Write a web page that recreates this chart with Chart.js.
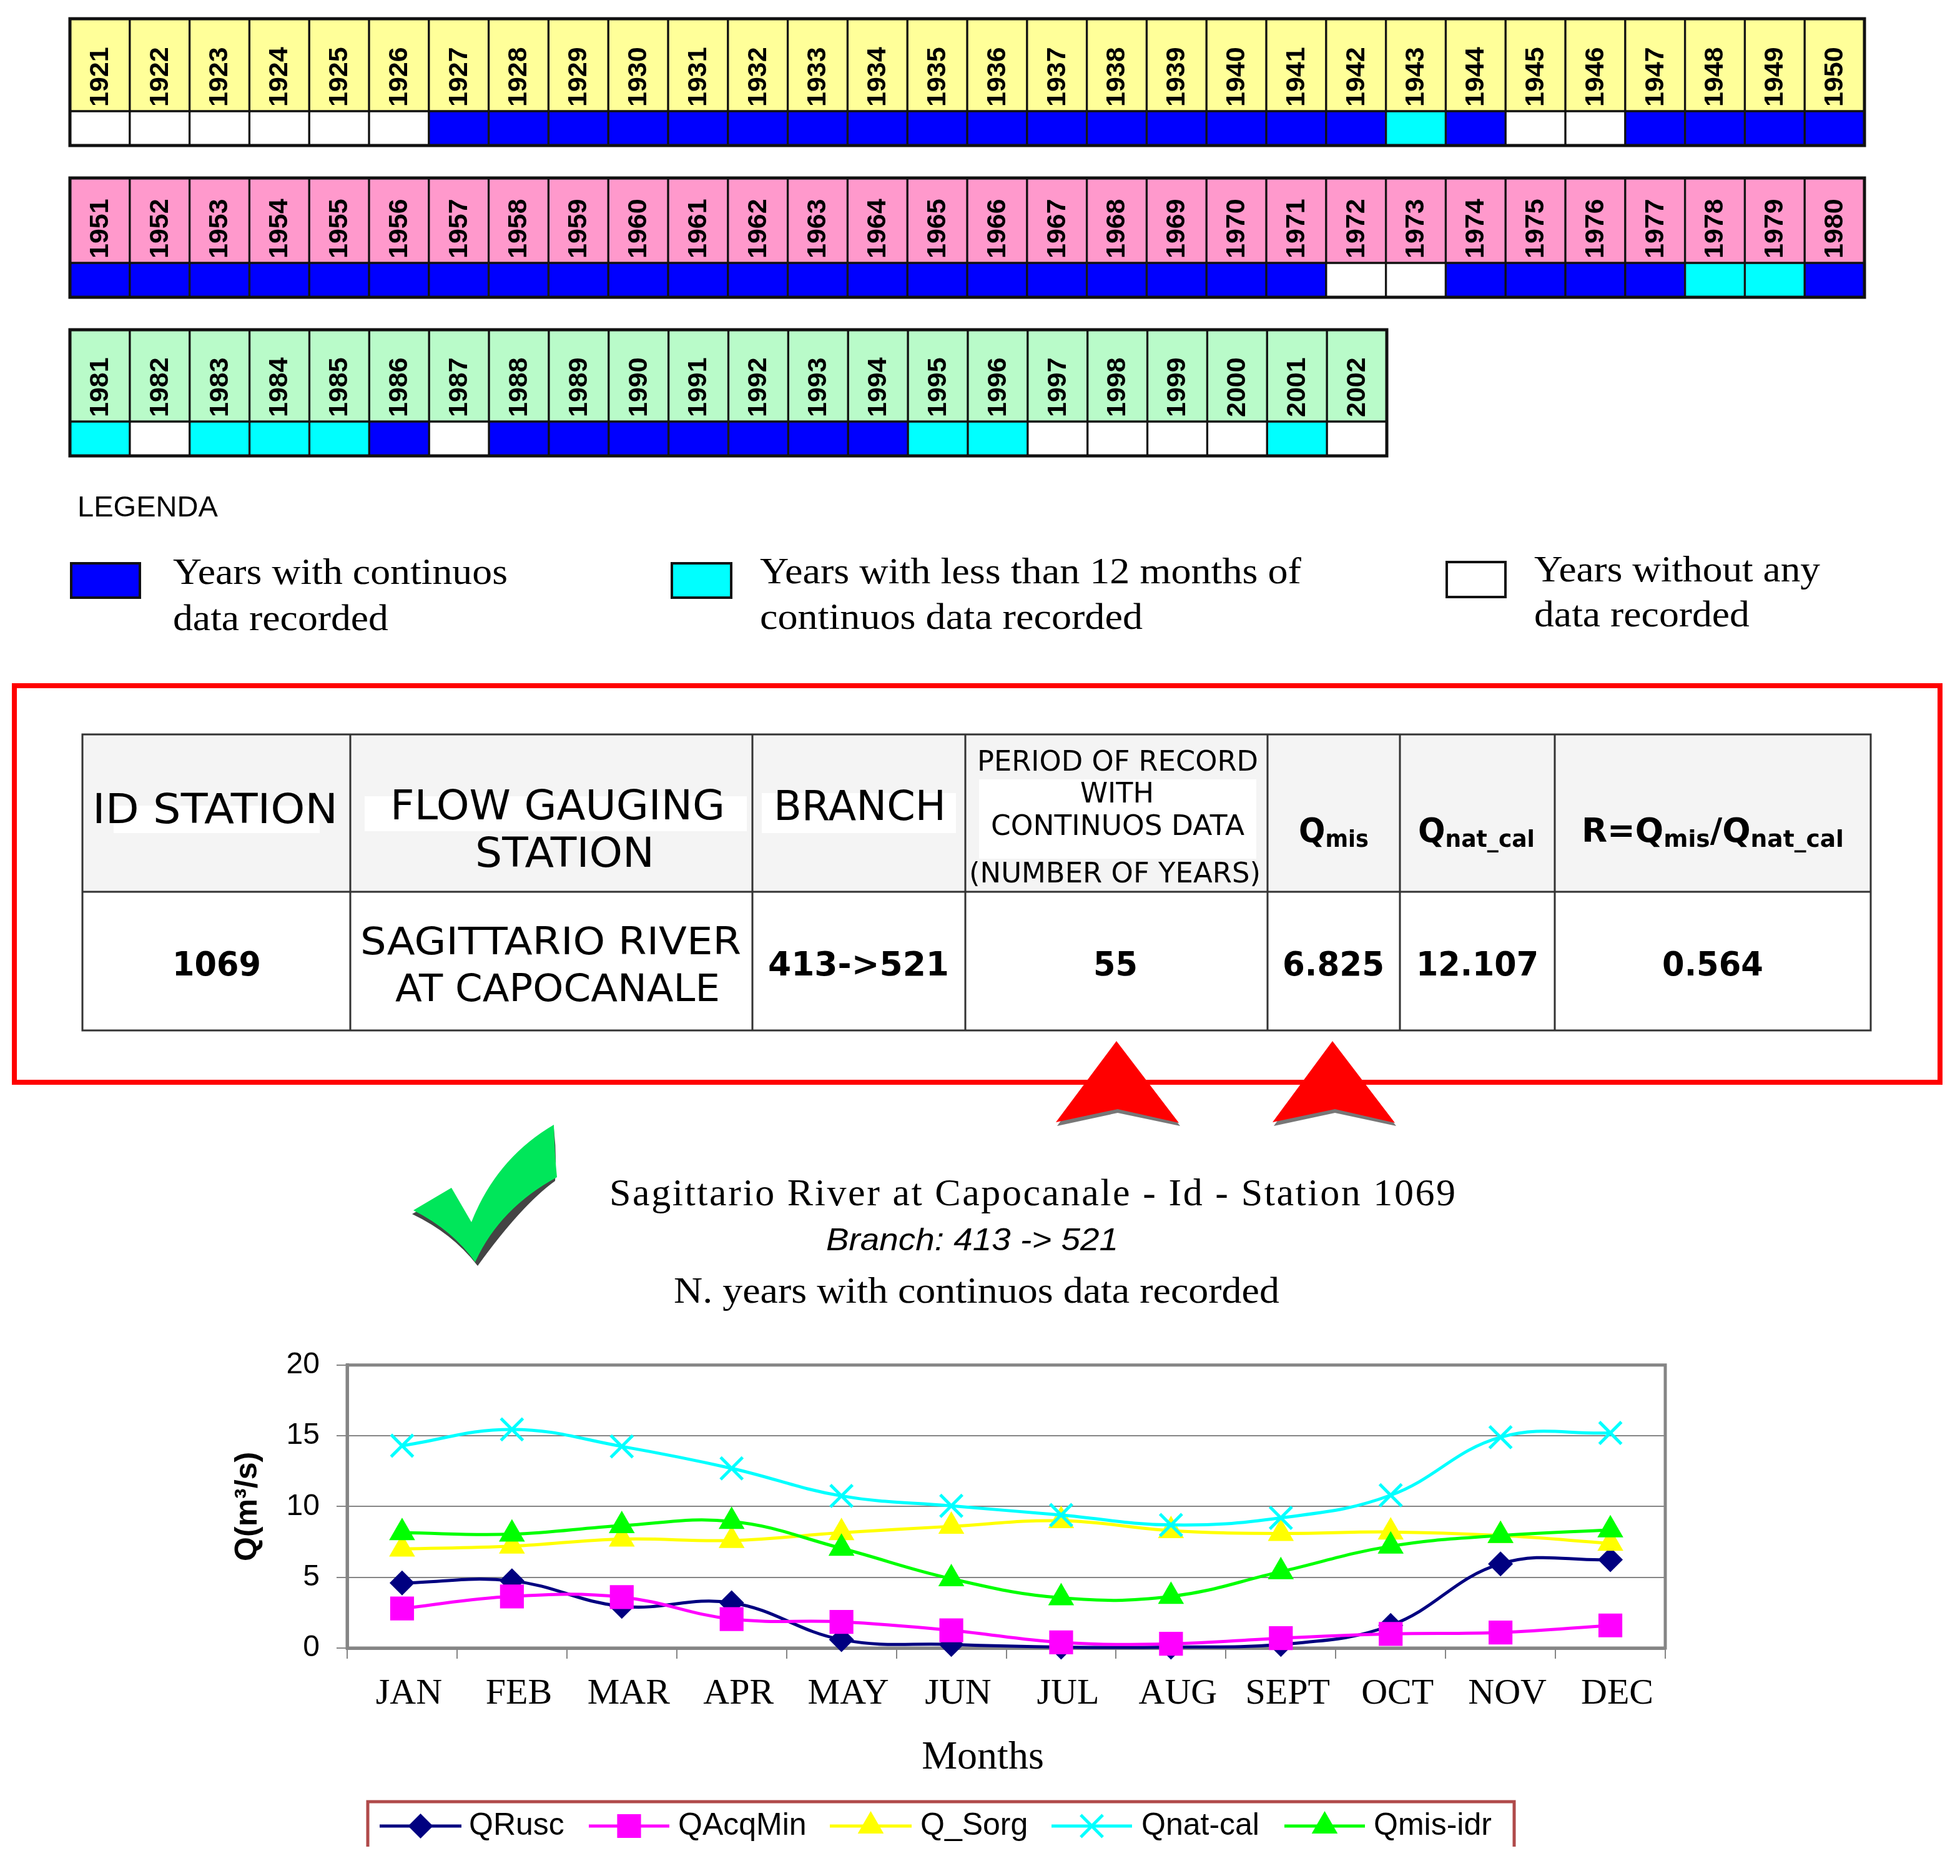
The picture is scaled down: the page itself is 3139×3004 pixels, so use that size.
<!DOCTYPE html>
<html>
<head>
<meta charset="utf-8">
<title>Sagittario River at Capocanale</title>
<script src="https://cdn.jsdelivr.net/npm/chart.js@4/dist/chart.umd.min.js"></script>
<style>
  html, body { margin: 0; padding: 0; background: #fff; }
  #page { position: relative; width: 3139px; height: 3004px; overflow: hidden; background: #fff; }
  canvas { position: absolute; display: block; }
  #overlay { position: absolute; left: 0; top: 0; }
  .sans { font-family: "Liberation Sans", Arial, sans-serif; }
  .serif { font-family: "Liberation Serif", "Times New Roman", serif; }
  .dv { font-family: "DejaVu Sans", Verdana, sans-serif; }
  .dvb { font-family: "DejaVu Sans", Verdana, sans-serif; font-weight: bold; }
</style>
</head>
<body>
<div id="page">
  <canvas id="years-1" width="2882" height="211" style="left:108px;top:26px"></canvas>
  <canvas id="years-2" width="2882" height="199" style="left:108px;top:281px"></canvas>
  <canvas id="years-3" width="2117" height="210" style="left:108px;top:524px"></canvas>
  <canvas id="chart-flow" width="2400" height="840" style="left:340px;top:2130px"></canvas>

  <svg id="overlay" width="3139" height="3004" xmlns="http://www.w3.org/2000/svg">
    <!-- status legend -->
    <text class="sans" x="124" y="827" font-size="46" textLength="225" lengthAdjust="spacingAndGlyphs">LEGENDA</text>
    <rect x="114" y="902" width="110" height="55" fill="#0000ff" stroke="#111" stroke-width="4"/>
    <rect x="1076" y="902" width="95" height="55" fill="#00ffff" stroke="#111" stroke-width="4"/>
    <rect x="2317" y="900" width="94" height="56" fill="#fff" stroke="#111" stroke-width="4"/>
    <g class="serif" font-size="60">
      <text x="277" y="935" textLength="536" lengthAdjust="spacingAndGlyphs">Years with continuos</text>
      <text x="277" y="1009" textLength="345" lengthAdjust="spacingAndGlyphs">data recorded</text>
      <text x="1217" y="934" textLength="867" lengthAdjust="spacingAndGlyphs">Years with less than 12 months of</text>
      <text x="1217" y="1007" textLength="613" lengthAdjust="spacingAndGlyphs">continuos data recorded</text>
      <text x="2457" y="931" textLength="458" lengthAdjust="spacingAndGlyphs">Years without any</text>
      <text x="2457" y="1003" textLength="345" lengthAdjust="spacingAndGlyphs">data recorded</text>
    </g>

    <!-- station table -->
    <rect x="23" y="1098" width="3084" height="635" fill="none" stroke="#ff0000" stroke-width="8"/>
    <rect x="132" y="1176" width="2864" height="252" fill="#f4f4f4"/>
    <rect x="182" y="1290" width="330" height="44" fill="#fff"/>
    <rect x="584" y="1275" width="612" height="56" fill="#fff"/>
    <rect x="1220" y="1270" width="311" height="64" fill="#fff"/>
    <rect x="1568" y="1248" width="444" height="127" fill="#fff"/>
    <g stroke="#333" stroke-width="3" fill="none">
      <rect x="132" y="1176" width="2864" height="474"/>
      <line x1="132" y1="1428" x2="2996" y2="1428"/>
      <line x1="561" y1="1176" x2="561" y2="1650"/>
      <line x1="1205" y1="1176" x2="1205" y2="1650"/>
      <line x1="1546" y1="1176" x2="1546" y2="1650"/>
      <line x1="2030" y1="1176" x2="2030" y2="1650"/>
      <line x1="2242" y1="1176" x2="2242" y2="1650"/>
      <line x1="2490" y1="1176" x2="2490" y2="1650"/>
    </g>
    <g class="dv" font-size="66" fill="#000">
      <text x="148" y="1318" textLength="393" lengthAdjust="spacingAndGlyphs">ID STATION</text>
      <text x="625" y="1312" textLength="536" lengthAdjust="spacingAndGlyphs">FLOW GAUGING</text>
      <text x="761" y="1388" textLength="287" lengthAdjust="spacingAndGlyphs">STATION</text>
      <text x="1239" y="1313" textLength="276" lengthAdjust="spacingAndGlyphs">BRANCH</text>
    </g>
    <g class="dv" font-size="45" fill="#000">
      <text x="1565" y="1234" textLength="450" lengthAdjust="spacingAndGlyphs">PERIOD OF RECORD</text>
      <text x="1730" y="1285" textLength="118" lengthAdjust="spacingAndGlyphs">WITH</text>
      <text x="1587" y="1337" textLength="406" lengthAdjust="spacingAndGlyphs">CONTINUOS DATA</text>
      <text x="1552" y="1413" textLength="467" lengthAdjust="spacingAndGlyphs">(NUMBER OF YEARS)</text>
    </g>
    <g class="dvb" font-size="54" fill="#000">
      <text x="2080" y="1348" textLength="112" lengthAdjust="spacingAndGlyphs">Q<tspan font-size="38" dy="8">mis</tspan></text>
      <text x="2271" y="1348" textLength="187" lengthAdjust="spacingAndGlyphs">Q<tspan font-size="38" dy="8">nat_cal</tspan></text>
      <text x="2533" y="1348" textLength="420" lengthAdjust="spacingAndGlyphs">R=Q<tspan font-size="38" dy="8">mis</tspan><tspan dy="-8">/Q</tspan><tspan font-size="38" dy="8">nat_cal</tspan></text>
      <text x="276" y="1562" textLength="142" lengthAdjust="spacingAndGlyphs">1069</text>
      <text x="1230" y="1562" textLength="290" lengthAdjust="spacingAndGlyphs">413-&gt;521</text>
      <text x="1751" y="1562" textLength="71" lengthAdjust="spacingAndGlyphs">55</text>
      <text x="2054" y="1562" textLength="163" lengthAdjust="spacingAndGlyphs">6.825</text>
      <text x="2268" y="1562" textLength="196" lengthAdjust="spacingAndGlyphs">12.107</text>
      <text x="2662" y="1562" textLength="162" lengthAdjust="spacingAndGlyphs">0.564</text>
    </g>
    <g class="dv" font-size="60" fill="#000">
      <text x="577" y="1528" textLength="610" lengthAdjust="spacingAndGlyphs">SAGITTARIO RIVER</text>
      <text x="633" y="1603" textLength="520" lengthAdjust="spacingAndGlyphs">AT CAPOCANALE</text>
    </g>

    <!-- arrows and check mark -->
    <g fill="#555" opacity="0.8">
      <polygon points="1788,1672 1693,1803 1790,1782 1890,1803"/>
      <polygon points="2134,1672 2040,1803 2138,1782 2236,1803"/>
    </g>
    <polygon points="1788,1667 1691,1797 1790,1776 1888,1798" fill="#ff0000"/>
    <polygon points="2134,1667 2038,1797 2138,1776 2234,1798" fill="#ff0000"/>
    <path d="M884,1806 Q815,1905 757,2026 Q735,1975 665,1943 L723,1902 L755,1957 Q810,1860 892,1890 Z" fill="#444" opacity="0"/>
    <path d="M887,1807 Q892,1850 889,1891 Q835,1930 765,2027 Q725,1975 660,1944 L723,1908 L757,1961 Q800,1860 887,1807 Z" fill="#444"/>
    <path d="M887,1801 Q888,1845 892,1885 Q800,1935 761,2021 Q725,1970 662,1938 L723,1902 L755,1957 Q795,1855 887,1801 Z" fill="#00e65a"/>

    <!-- chart headings -->
    <text class="serif" x="976" y="1930" font-size="62" textLength="1355" lengthAdjust="spacing">Sagittario River at Capocanale - Id - Station 1069</text>
    <text class="sans" x="1323" y="2002" font-size="50" font-style="italic" textLength="468" lengthAdjust="spacingAndGlyphs">Branch: 413 -&gt; 521</text>
    <text class="serif" x="1079" y="2086" font-size="60" textLength="970" lengthAdjust="spacingAndGlyphs">N. years with continuos data recorded</text>
    <text class="serif" x="1574" y="2832" font-size="64" text-anchor="middle">Months</text>

    <!-- chart legend box, open at the bottom like the source -->
    <path d="M589,2957 V2885 H2425 V2957" fill="none" stroke="#b04a4a" stroke-width="5"/>
  </svg>
</div>

<script>
"use strict";

// Gauging record, one status per year: C continuous, P partial, N none
const years1 = [1921, 1922, 1923, 1924, 1925, 1926, 1927, 1928, 1929, 1930, 1931, 1932, 1933, 1934, 1935, 1936, 1937, 1938, 1939, 1940, 1941, 1942, 1943, 1944, 1945, 1946, 1947, 1948, 1949, 1950];
const status1 = ["N", "N", "N", "N", "N", "N", "C", "C", "C", "C", "C", "C", "C", "C", "C", "C", "C", "C", "C", "C", "C", "C", "P", "C", "N", "N", "C", "C", "C", "C"];
const years2 = [1951, 1952, 1953, 1954, 1955, 1956, 1957, 1958, 1959, 1960, 1961, 1962, 1963, 1964, 1965, 1966, 1967, 1968, 1969, 1970, 1971, 1972, 1973, 1974, 1975, 1976, 1977, 1978, 1979, 1980];
const status2 = ["C", "C", "C", "C", "C", "C", "C", "C", "C", "C", "C", "C", "C", "C", "C", "C", "C", "C", "C", "C", "C", "N", "N", "C", "C", "C", "C", "P", "P", "C"];
const years3 = [1981, 1982, 1983, 1984, 1985, 1986, 1987, 1988, 1989, 1990, 1991, 1992, 1993, 1994, 1995, 1996, 1997, 1998, 1999, 2000, 2001, 2002];
const status3 = ["P", "N", "P", "P", "P", "C", "N", "C", "C", "C", "C", "C", "C", "C", "P", "P", "N", "N", "N", "N", "P", "N"];

// Monthly flows, m3/s
const months = ["JAN", "FEB", "MAR", "APR", "MAY", "JUN", "JUL", "AUG", "SEPT", "OCT", "NOV", "DEC"];
const qRusc = [4.6, 4.75, 2.95, 3.2, 0.6, 0.25, 0.07, 0.07, 0.25, 1.6, 5.95, 6.25];
const qAcqMin = [2.8, 3.65, 3.6, 2.05, 1.85, 1.25, 0.4, 0.3, 0.7, 1.0, 1.1, 1.6];
const qSorg = [7.0, 7.2, 7.7, 7.6, 8.15, 8.6, 9.0, 8.3, 8.1, 8.2, 7.95, 7.4];
const qNatCal = [14.3, 15.45, 14.25, 12.7, 10.75, 10.05, 9.4, 8.7, 9.2, 10.8, 14.9, 15.2];
const qMisIdr = [8.15, 8.05, 8.65, 8.95, 7.05, 4.9, 3.55, 3.65, 5.4, 7.2, 7.95, 8.35];
const yTicks = [0, 5, 10, 15, 20];

const STATUS_COLORS = { C: "#0000ff", P: "#00ffff", N: "#ffffff" };
const GREY = "#858585";

Chart.defaults.animation = false;
Chart.defaults.responsive = false;
Chart.defaults.devicePixelRatio = 1;

// Rotated year inside each coloured cell, and the heavier outer frame
const yearCellPlugin = {
  id: "yearCell",
  afterDatasetsDraw(chart) {
    const { ctx, chartArea } = chart;
    const bars = chart.getDatasetMeta(0).data;
    ctx.save();
    ctx.fillStyle = "#000";
    ctx.font = 'bold 43px "Liberation Sans"';
    ctx.textAlign = "left";
    ctx.textBaseline = "middle";
    bars.forEach((bar, i) => {
      ctx.save();
      ctx.translate(bar.x, bar.base - 7);
      ctx.rotate(-Math.PI / 2);
      ctx.fillText(String(chart.data.labels[i]), 0, 1);
      ctx.restore();
    });
    ctx.strokeStyle = "#111";
    ctx.lineWidth = 5;
    ctx.strokeRect(chartArea.left, chartArea.top, chartArea.right - chartArea.left, chartArea.bottom - chartArea.top);
    ctx.restore();
  },
};

function yearChart(id, years, status, fill, bandTop) {
  return new Chart(document.getElementById(id), {
    type: "bar",
    data: {
      labels: years,
      datasets: [
        { label: "Year", data: years.map(() => [1, bandTop]), backgroundColor: fill },
        { label: "Record", data: status.map(() => [0, 1]), backgroundColor: status.map((s) => STATUS_COLORS[s]) },
      ],
    },
    options: {
      layout: { padding: 4 },
      datasets: {
        bar: { grouped: false, barPercentage: 1, categoryPercentage: 1, borderColor: "#111", borderWidth: 2, borderSkipped: false },
      },
      plugins: { legend: { display: false }, tooltip: { enabled: false } },
      scales: {
        x: { display: false },
        y: { display: false, min: 0, max: bandTop },
      },
    },
    plugins: [yearCellPlugin],
  });
}

yearChart("years-1", years1, status1, "#ffff99", 3.69);
yearChart("years-2", years2, status2, "#ff99cc", 3.47);
yearChart("years-3", years3, status3, "#b9fbc9", 3.67);

// Right and top frame of the plot, the source draws a full box
const plotFramePlugin = {
  id: "plotFrame",
  beforeDatasetsDraw(chart) {
    const { ctx, chartArea: a } = chart;
    ctx.save();
    ctx.strokeStyle = GREY;
    ctx.lineWidth = 5;
    ctx.strokeRect(a.left, a.top, a.right - a.left, a.bottom - a.top);
    ctx.restore();
  },
};

// Excel style legend: a piece of line with the marker on it
const LEGEND_SLOTS = [
  { from: 268, to: 399, text: 411 },
  { from: 603, to: 732, text: 746 },
  { from: 989, to: 1120, text: 1134 },
  { from: 1344, to: 1473, text: 1488 },
  { from: 1717, to: 1846, text: 1860 },
];
const LEGEND_Y = 794;

const lineLegendPlugin = {
  id: "lineLegend",
  afterDraw(chart) {
    const { ctx } = chart;
    ctx.save();
    ctx.font = '50px "Liberation Sans"';
    ctx.textBaseline = "middle";
    chart.data.datasets.forEach((ds, i) => {
      const slot = LEGEND_SLOTS[i];
      ctx.strokeStyle = ds.borderColor;
      ctx.lineWidth = 5;
      ctx.beginPath();
      ctx.moveTo(slot.from, LEGEND_Y);
      ctx.lineTo(slot.to, LEGEND_Y);
      ctx.stroke();
      ctx.fillStyle = ds.pointBackgroundColor;
      ctx.strokeStyle = ds.pointBorderColor;
      ctx.lineWidth = ds.pointBorderWidth;
      Chart.helpers.drawPoint(ctx, { pointStyle: ds.pointStyle, radius: ds.pointRadius, borderWidth: ds.pointBorderWidth, rotation: 0 }, (slot.from + slot.to) / 2, LEGEND_Y);
      ctx.fillStyle = "#000";
      ctx.fillText(ds.label, slot.text, LEGEND_Y);
    });
    ctx.restore();
  },
};

function flowSeries(label, data, color, style, radius, order) {
  return {
    label, data, order,
    borderColor: color,
    borderWidth: 5,
    tension: 0.4,
    clip: false,
    pointStyle: style,
    pointRadius: radius,
    pointBackgroundColor: color,
    pointBorderColor: color,
    pointBorderWidth: style === "crossRot" ? 5 : 0,
  };
}

new Chart(document.getElementById("chart-flow"), {
  type: "line",
  data: {
    labels: months,
    datasets: [
      flowSeries("QRusc", qRusc, "#000080", "rectRot", 20, 4),
      flowSeries("QAcqMin", qAcqMin, "#ff00ff", "rect", 27, 3),
      flowSeries("Q_Sorg", qSorg, "#ffff00", "triangle", 24, 2),
      flowSeries("Qnat-cal", qNatCal, "#00ffff", "crossRot", 25, 1),
      flowSeries("Qmis-idr", qMisIdr, "#00ff00", "triangle", 24, 0),
    ],
  },
  options: {
    layout: { padding: { top: 43, right: 73, bottom: 0, left: 0 } },
    plugins: { legend: { display: false }, tooltip: { enabled: false } },
    scales: {
      x: {
        afterFit(scale) { scale.height = 331; },
        offset: true,
        grid: { drawOnChartArea: false, color: GREY, lineWidth: 2, tickLength: 17, offset: true },
        border: { color: GREY, width: 5 },
        ticks: {
          color: "#000",
          font: { family: '"Liberation Serif"', size: 58 },
          padding: 22,
          labelOffset: 11,
          maxRotation: 0,
          minRotation: 0,
          autoSkip: false,
        },
      },
      y: {
        afterFit(scale) { scale.width = 216; },
        min: 0,
        max: 20,
        afterBuildTicks(scale) { scale.ticks = yTicks.map((value) => ({ value })); },
        grid: {
          color: GREY,
          lineWidth: 2,
          tickLength: 17,
        },
        border: { color: GREY, width: 5 },
        ticks: {
          color: "#000",
          font: { family: '"Liberation Sans"', size: 48 },
          padding: 27,
        },
        title: {
          display: true,
          text: "Q(m³/s)",
          color: "#000",
          font: { family: '"Liberation Sans"', size: 50, weight: "bold" },
          padding: { top: 27, bottom: 0 },
        },
      },
    },
  },
  plugins: [plotFramePlugin, lineLegendPlugin],
});
</script>
</body>
</html>
